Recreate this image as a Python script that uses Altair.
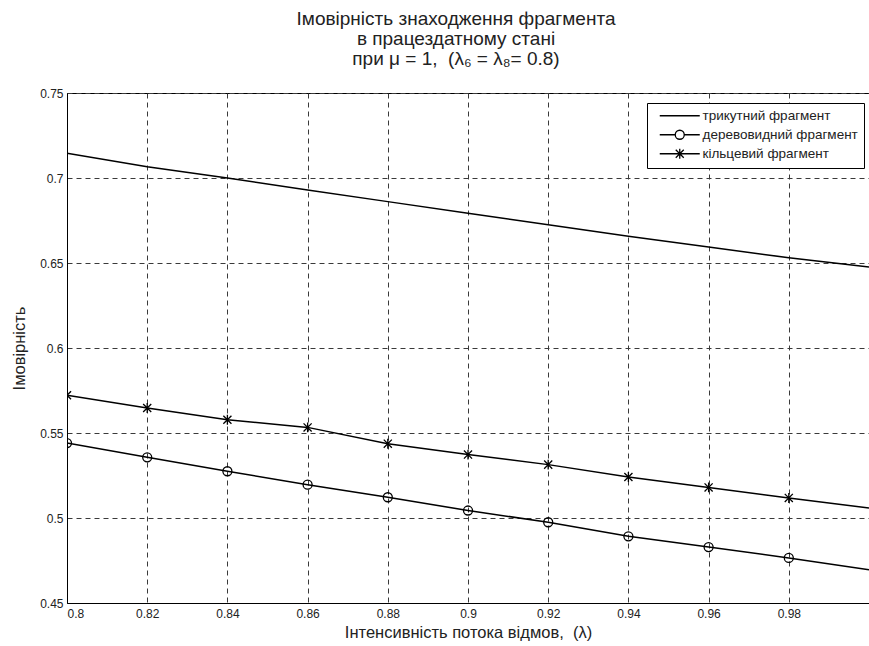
import altair as alt
import pandas as pd

# ---- data ----
lam = [0.80, 0.82, 0.84, 0.86, 0.88, 0.90, 0.92, 0.94, 0.96, 0.98, 1.00]
triangle = [0.7145, 0.7066, 0.7000, 0.6930, 0.6861, 0.6793, 0.6725, 0.6658, 0.6594, 0.6531, 0.6477]
tree = [0.5441, 0.5357, 0.5275, 0.5196, 0.5122, 0.5044, 0.4975, 0.4892, 0.4829, 0.4765, 0.4696]
ring = [0.5722, 0.5647, 0.5578, 0.5533, 0.5437, 0.5373, 0.5314, 0.5241, 0.5180, 0.5118, 0.5059]

names = ["трикутний фрагмент", "деревовидний фрагмент", "кільцевий фрагмент"]
x_ticks = [0.80, 0.82, 0.84, 0.86, 0.88, 0.90, 0.92, 0.94, 0.96, 0.98]
y_ticks = [0.45, 0.50, 0.55, 0.60, 0.65, 0.70, 0.75]
title_lines = ["Імовірність знаходження фрагмента", "в працездатному стані",
               "при μ = 1,\u00a0\u00a0(λ₆ = λ₈= 0.8)"]
x_title = "Інтенсивність потока відмов,\u00a0\u00a0(λ)"
y_title = "Імовірність"

rows = []
for name, vals in zip(names, [triangle, tree, ring]):
    for l, v in zip(lam, vals):
        rows.append({"lam": l, "p": v, "series": name})
df = pd.DataFrame(rows)

FONT = "Liberation Sans"
TXT = "#222222"

x_enc = alt.X(
    "lam:Q",
    scale=alt.Scale(domain=[0.8, 1.0], nice=False, zero=False),
    axis=alt.Axis(values=x_ticks, format=".2~f", title=x_title, grid=True,
                  labelPadding=5, titlePadding=5),
)
y_enc = alt.Y(
    "p:Q",
    scale=alt.Scale(domain=[0.45, 0.75], nice=False, zero=False),
    axis=alt.Axis(values=y_ticks, format=".2~f", title=y_title, grid=True,
                  labelPadding=4, titlePadding=12),
)

lines = alt.Chart(df).mark_line(color="black", strokeWidth=1.5, clip=True).encode(
    x=x_enc, y=y_enc, detail="series:N"
)

star_path = "M-0.9,-0.9L0.9,0.9M-0.9,0.9L0.9,-0.9M0,-1.1L0,1.1"
points = (
    alt.Chart(df)
    .transform_filter(f"datum.series != '{names[0]}' && datum.lam < 0.99")
    .mark_point(filled=False, color="black", strokeWidth=1.3, size=81, opacity=1, clip=True)
    .encode(
        x="lam:Q",
        y="p:Q",
        shape=alt.Shape("series:N",
                        scale=alt.Scale(domain=[names[1], names[2]], range=["circle", star_path]),
                        legend=None),
    )
)

leg_line = "M-4,0L4,0"
leg_circle = "M-4,0L-0.9,0M0.9,0L4,0M-0.9,0A0.9,0.9 0 1,0 0.9,0A0.9,0.9 0 1,0 -0.9,0"
leg_star = "M-4,0L4,0M-0.8,-0.8L0.8,0.8M-0.8,0.8L0.8,-0.8M0,-1L0,1"

legend_layer = (
    alt.Chart(df)
    .transform_filter("false")
    .mark_point(filled=False, color="black", strokeWidth=1.3, opacity=1)
    .encode(
        x="lam:Q",
        y="p:Q",
        shape=alt.Shape(
            "series:N",
            scale=alt.Scale(domain=names, range=[leg_line, leg_circle, leg_star]),
            legend=alt.Legend(
                title=None, orient="none", legendX=580, legendY=10,
                strokeColor="black", fillColor="white", padding=6,
                symbolSize=100, symbolOffset=20, labelOffset=16,
                symbolStrokeColor="black", symbolStrokeWidth=1.3,
                labelFont=FONT, labelFontSize=13.5, labelColor=TXT,
                rowPadding=4, labelBaseline="middle", labelLimit=300,
            ),
        ),
    )
)

chart = (
    alt.layer(lines, points, legend_layer)
    .resolve_scale(shape="independent")
    .properties(
        width=802,
        height=510,
        background="white",
        title=alt.TitleParams(
            title_lines, font=FONT, fontSize=19, fontWeight="normal", color=TXT,
            anchor="middle", lineHeight=20, offset=18, dx=-12,
        ),
        autosize=alt.AutoSizeParams(type="none"),
        padding={"left": 67, "top": 93, "right": 0, "bottom": 43},
    )
    .configure_view(stroke="black", strokeWidth=1)
    .configure_axis(
        labelFont=FONT, labelFontSize=12, labelColor=TXT,
        titleFont=FONT, titleFontSize=16.5, titleFontWeight="normal", titleColor=TXT,
        domainColor="black", domainWidth=1, ticks=False,
        gridColor="#3a3a3a", gridDash=[5, 4], gridWidth=1, gridOpacity=1,
    )
)

chart.save("out.html", embed_options={"renderer": "svg", "actions": False})
